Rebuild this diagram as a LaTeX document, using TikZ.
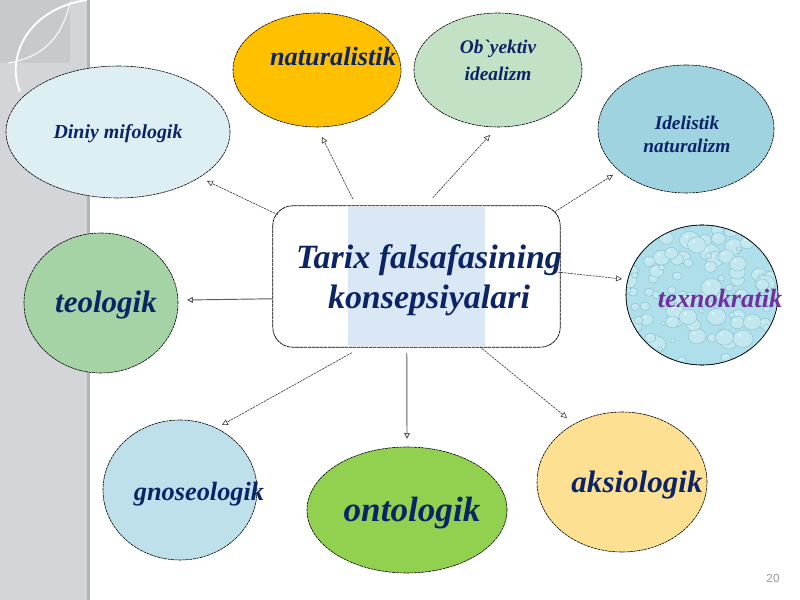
\documentclass[tikz,border=0pt]{standalone}
\usepackage{fontspec}
\setmainfont{Liberation Serif}
\setsansfont{Liberation Sans}
\usetikzlibrary{shapes.geometric,arrows.meta,calc}
\definecolor{navy}{HTML}{0B2466}
\definecolor{stripgrey}{HTML}{D4D5D9}
\definecolor{stripdark}{HTML}{C8C9CD}
\definecolor{stripline}{HTML}{B3B4B7}
\definecolor{cdiniy}{HTML}{DEEFF4}
\definecolor{cnat}{HTML}{FFC000}
\definecolor{cobj}{HTML}{C3E1C5}
\definecolor{cidel}{HTML}{A0D3E0}
\definecolor{cteo}{HTML}{A6D3A5}
\definecolor{ctex}{HTML}{AEDFEA}
\definecolor{cdropline}{HTML}{7DBCCC}
\definecolor{cgno}{HTML}{BEE0EA}
\definecolor{cont}{HTML}{92D050}
\definecolor{caks}{HTML}{FDE092}
\definecolor{cfrost}{HTML}{DAE8F6}
\definecolor{cpurple}{HTML}{7030A0}
\definecolor{arrgrey}{HTML}{333333}
\tikzset{
  ell/.style n args={2}{ellipse, draw=black, line width=0.5pt,
    dash pattern=on 2.5pt off 0.6pt, inner sep=0pt,
    minimum width=#1*0.6mm, minimum height=#2*0.6mm},
  lbl/.style={font=\bfseries\itshape, text=navy, inner sep=0pt, align=center},
  arr/.style={draw=arrgrey, line width=0.5pt, dash pattern=on 2pt off 0.7pt,
    -{Triangle[open,length=5pt,width=5pt]}},
  arrsolid/.style={draw=arrgrey!80, line width=0.8pt,
    -{Triangle[open,length=5pt,width=5pt]}},
  drop/.style={fill=ctex!75!white, draw=cdropline, line width=0.3pt}
}
\begin{document}
\begin{tikzpicture}[x=0.3mm,y=-0.3mm]
\useasboundingbox (0,0) rectangle (800,600);
% background
\fill[white] (0,0) rectangle (800,600);
\fill[stripgrey] (0,0) rectangle (87,600);
\fill[stripdark] (0,0) rectangle (70,63);
\draw[white!85!stripdark, line width=1pt] (70,2) .. controls (62,40) and (40,58) .. (8,63);
\draw[white, line width=1.6pt] (87,0) .. controls (30,8) and (5,55) .. (20,92);
\draw[stripline, line width=3pt] (88.5,0) -- (88.5,600);

% ellipses
\node[ell={112}{66}, fill=cdiniy] (diniy) at (118,132) {};
\node[ell={84}{57}, fill=cnat] (nat) at (317,70) {};
\node[ell={84}{57}, fill=cobj] (obj) at (498,70) {};
\node[ell={88}{64}, fill=cidel] (idel) at (686,129) {};
\node[ell={77}{70}, fill=cteo] (teo) at (101,303) {};
\node[ell={76}{70}, fill=ctex] (tex) at (702,295) {};
\node[ell={77}{70}, fill=cgno] (gno) at (180,490) {};
\node[ell={100}{63}, fill=cont] (ont) at (407,510) {};
\node[ell={85}{70}, fill=caks] (aks) at (622,482) {};

% water drops texture
\begin{scope}
\clip (702,295) ellipse [x radius=75, y radius=69];
\pgfmathsetseed{11}
\foreach \i in {1,...,110}{
  \pgfmathsetmacro\bx{626+rnd*152}
  \pgfmathsetmacro\by{225+rnd*140}
  \pgfmathsetmacro\br{2+rnd*7}
  \fill[drop] (\bx,\by) ellipse [x radius=\br*1.15, y radius=\br];
  \fill[white, opacity=0.45] (\bx-\br*0.35,\by-\br*0.4) circle [radius=\br*0.22];
}
\end{scope}
\draw[line width=0.5pt, dash pattern=on 2.5pt off 0.6pt] (tex.center) ellipse [x radius=76, y radius=70];

% central box
\node[draw=none, fill=white, rounded corners=6mm, minimum width=287*0.3mm,
  minimum height=141*0.3mm, inner sep=0pt] (box) at (416.5,276.5) {};
\fill[cfrost] (348,207) rectangle (485,346);
\draw[line width=0.6pt, dash pattern=on 3pt off 0.5pt, rounded corners=6mm]
  (box.north west) rectangle (box.south east);

% labels
\node[lbl, font=\fontsize{29}{34}\selectfont\bfseries\itshape] (boxT) at (429,280)
  {Tarix falsafasining\\konsepsiyalari};
\node[lbl, font=\fontsize{17}{20}\selectfont\bfseries\itshape] (diniyT) at (118,134) {Diniy mifologik};
\node[lbl, font=\fontsize{22.5}{26}\selectfont\bfseries\itshape] (natT) at (333,57) {naturalistik};
\node[lbl, font=\fontsize{16.5}{23}\selectfont\bfseries\itshape] (objT) at (498,60) {Ob\textasciigrave yektiv\\idealizm};
\node[lbl, font=\fontsize{16.5}{19.5}\selectfont\bfseries\itshape] (idelT) at (687,134) {Idelistik\\naturalizm};
\node[lbl, font=\fontsize{26.5}{30}\selectfont\bfseries\itshape] (teoT) at (106,305) {teologik};
\node[lbl, text=cpurple, font=\fontsize{22.5}{26}\selectfont\bfseries\itshape] (texT) at (720,298) {texnokratik};
\node[lbl, font=\fontsize{22.5}{26}\selectfont\bfseries\itshape] (gnoT) at (199,494) {gnoseologik};
\node[lbl, font=\fontsize{30}{34}\selectfont\bfseries\itshape] (ontT) at (412,513) {ontologik};
\node[lbl, font=\fontsize{26.5}{30}\selectfont\bfseries\itshape] (aksT) at (637,485) {aksiologik};

% connectors
\draw[arr] ([shift={(5,9)}]box.north west) -- ([shift={(89,49)}]diniy.center);
\draw[arr] ([shift={(80,-7)}]box.north west) -- ([shift={(5,67)}]nat.center);
\draw[arr] ([shift={(160,-8)}]box.north west) -- ([shift={(-8,65)}]obj.center);
\draw[arr] ([shift={(282,6)}]box.north west) -- ([shift={(-73,46)}]idel.center);
\draw[arr] ([shift={(282,66)}]box.north west) -- ([shift={(-80,-16)}]tex.center);
\draw[arrsolid] ([shift={(0,93)}]box.north west) -- ([shift={(86,-3)}]teo.center);
\draw[arr] ([shift={(79,147)}]box.north west) -- ([shift={(42,-65)}]gno.center);
\draw[arrsolid] ([shift={(134,147)}]box.north west) -- ([shift={(0,-71)}]ont.center);
\draw[arr] ([shift={(207,141)}]box.north west) -- ([shift={(-55,-64)}]aks.center);

% page number
\node[font=\sffamily\fontsize{10}{12}\selectfont, text=black!40, inner sep=0pt] (pnum) at (773,578) {20};
\end{tikzpicture}
\end{document}
